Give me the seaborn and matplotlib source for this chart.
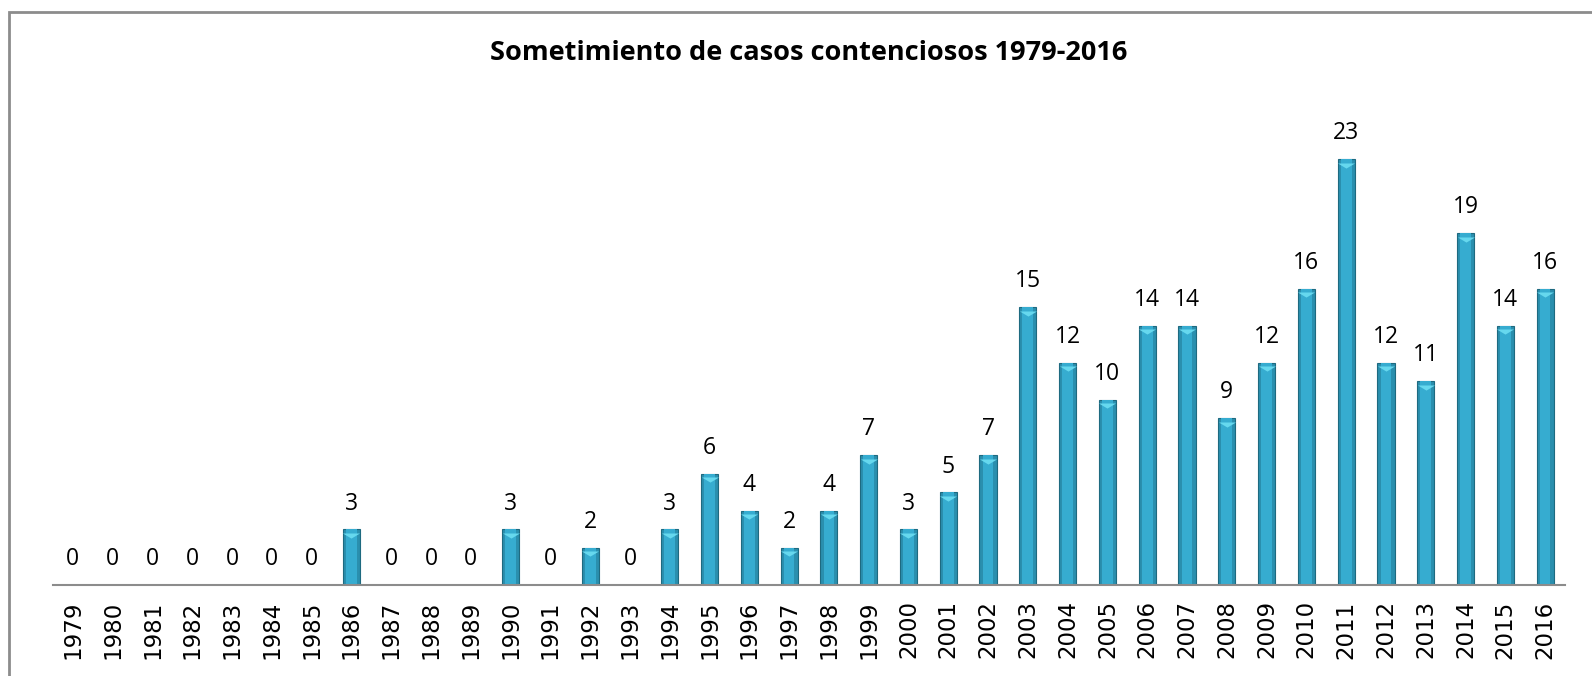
import matplotlib
matplotlib.use("Agg")
import matplotlib.pyplot as plt
import matplotlib.transforms as mtransforms
import seaborn as sns
import pandas as pd
from matplotlib.patches import Rectangle

years = [str(y) for y in range(1979, 2017)]
casos = [0, 0, 0, 0, 0, 0, 0, 3, 0, 0, 0, 3, 0, 2, 0, 3, 6, 4, 2, 4, 7, 3, 5, 7,
         15, 12, 10, 14, 14, 9, 12, 16, 23, 12, 11, 19, 14, 16]
title = "Sometimiento de casos contenciosos 1979-2016"

df = pd.DataFrame({"year": years, "casos": casos})

sns.set_theme(style="white")
plt.rcParams['font.family'] = ['Open Sans', 'DejaVu Sans']

fig = plt.figure(figsize=(15.92, 6.76), dpi=100)
ax = fig.add_axes([53/1592, 1-585/676, (1565-53)/1592, (585-122)/676])

sns.barplot(data=df, x="year", y="casos", ax=ax, color="#2A8FAE", width=0.43,
            saturation=1, edgecolor="#1E6A80", linewidth=0.8)
# inner highlight (bevel look)
sns.barplot(data=df, x="year", y="casos", ax=ax, color="#36ACD0", width=0.27,
            saturation=1, linewidth=0)

ax.bar_label(ax.containers[0], labels=[str(v) for v in casos], padding=10,
             fontsize=16.5, color="black")

# bevel top triangles
nz = df[df["casos"] > 0]
pos = [years.index(y) for y in nz["year"]]
off = mtransforms.offset_copy(ax.transData, fig=fig, x=0, y=-3.5, units="dots")
ax.scatter(pos, nz["casos"], marker=[(-1, 0), (1, 0), (0, -0.6)], s=150,
           color="#66D8EE", linewidths=0, transform=off, zorder=5)

ax.set_ylim(0, 25)
ax.set_xlim(-0.5, len(years) - 0.5)
ax.set_xlabel("")
ax.set_ylabel("")
ax.set_yticks([])
ax.tick_params(axis="x", rotation=90, length=0, pad=11, colors="black")
for lab in ax.get_xticklabels():
    lab.set_fontfamily(["DejaVu Sans"])
    lab.set_fontsize(16.5)
for s in ["top", "right", "left"]:
    ax.spines[s].set_visible(False)
ax.spines["bottom"].set_color("#8C8C8C")
ax.spines["bottom"].set_linewidth(1.5)
ax.spines["bottom"].set_zorder(6)

fig.text(809/1592, 1-53/676, title, ha="center", va="center", fontsize=19.5,
         fontweight="bold", color="black")

fig.patches.append(Rectangle((9/1592, -0.1), 1.2, 1.1 - 12/676, transform=fig.transFigure,
                             fill=False, edgecolor="#8C8C8C", linewidth=2))

fig.savefig("out.png", dpi=100)
